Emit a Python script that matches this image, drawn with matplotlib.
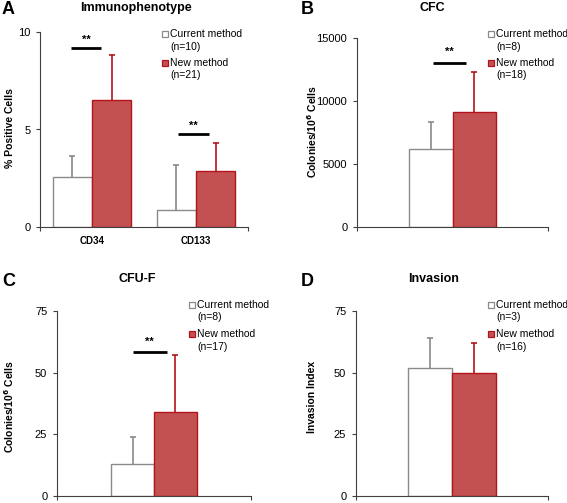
import matplotlib
matplotlib.use("Agg")
import matplotlib.pyplot as plt
from matplotlib.patches import Rectangle
import numpy as np

plt.rcParams['font.family'] = ['Liberation Sans', 'DejaVu Sans']

# data
immuno_cats = ['CD34', 'CD133']
immuno_current = [2.55, 0.85]
immuno_current_err = [1.1, 2.35]
immuno_new = [6.5, 2.85]
immuno_new_err = [2.3, 1.45]

cfc_current = [6200]
cfc_current_err = [2100]
cfc_new = [9100]
cfc_new_err = [3200]

cfuf_current = [13]
cfuf_current_err = [11]
cfuf_new = [34]
cfuf_new_err = [23]

inv_current = [52]
inv_current_err = [12]
inv_new = [50]
inv_new_err = [12]

W, H = 567, 503
RED = '#c45152'
RED_EDGE = '#b3141c'
GRAY = '#8a8a8a'
AXC = '#404040'

fig = plt.figure(figsize=(W / 100, H / 100), dpi=100)


def px_axes(x0, x1, ytop, ybot, ncat):
    ax = fig.add_axes([x0 / W, (H - ybot) / H, (x1 - x0) / W, (ybot - ytop) / H])
    ax._px = (x0, x1, ytop, ybot)
    ax._ncat = ncat
    return ax


def bars(ax, cur, cur_err, new, new_err, width, offset):
    x = np.arange(len(cur))
    cur = np.array(cur)
    new = np.array(new)
    ax.bar(x - offset, cur, width, color='white', edgecolor=GRAY, linewidth=1, zorder=2)
    ax.bar(x + offset, new, width, color=RED, edgecolor=RED_EDGE, linewidth=1, zorder=2)
    # upper error bars only
    ax.vlines(x - offset, cur, cur + np.array(cur_err), color=GRAY, lw=1.2, zorder=1)
    ax.plot(x - offset, cur + np.array(cur_err), ls='none', marker='_', ms=4, mew=1.2, color=GRAY, zorder=1)
    ax.vlines(x + offset, new, new + np.array(new_err), color=RED_EDGE, lw=1.2, zorder=1)
    ax.plot(x + offset, new + np.array(new_err), ls='none', marker='_', ms=4, mew=1.2, color=RED_EDGE, zorder=1)


def style(ax, ylim, yticks, ylabel, lab_x, lab_y):
    n = ax._ncat
    ax.set_ylim(*ylim)
    ax.set_yticks(yticks)
    ax.set_xlim(-0.5, n - 0.5)
    ax.set_xticks([-0.5, n - 0.5])
    ax.set_xticklabels(['', ''])
    ax.spines['top'].set_visible(False)
    ax.spines['right'].set_visible(False)
    ax.spines['left'].set_color(AXC)
    ax.spines['bottom'].set_color(AXC)
    ax.tick_params(axis='y', labelsize=8, length=3, color=AXC, pad=4)
    ax.tick_params(axis='x', length=3, color=AXC)
    ax.set_ylabel(ylabel, fontsize=7.5, fontweight='bold', va='center')
    x0, x1, ytop, ybot = ax._px
    ax.yaxis.set_label_coords((lab_x - x0) / (x1 - x0), (ybot - lab_y) / (ybot - ytop))


def sig(ax, x0, x1, y, ys):
    ax.plot([x0, x1], [y, y], color='black', lw=2, solid_capstyle='butt', clip_on=False)
    ax.text((x0 + x1) / 2, ys, '**', ha='center', va='center', fontsize=8, fontweight='bold')


def legend(x, y, n_cur, n_new):
    for dy, fc, ec, lab, n in [(0, 'white', GRAY, 'Current method', n_cur),
                               (29, RED, RED_EDGE, 'New method', n_new)]:
        fig.add_artist(Rectangle((x / W, (H - (y + dy) - 3) / H), 6 / W, 6 / H,
                                 facecolor=fc, edgecolor=ec, lw=0.9, transform=fig.transFigure))
        fig.text((x + 8) / W, (H - (y + dy)) / H, lab, fontsize=7.5, va='center', ha='left')
        fig.text((x + 8) / W, (H - (y + dy + 12.5)) / H, '(n=%d)' % n, fontsize=7.5, va='center', ha='left')


def panel_title(letter, lx, ly, title, tx, ty):
    fig.text(lx / W, (H - ly) / H, letter, fontsize=13, fontweight='bold', va='center', ha='left')
    fig.text(tx / W, (H - ty) / H, title, fontsize=9, fontweight='bold', va='center', ha='center')


# A
axA = px_axes(40, 248, 32, 227, len(immuno_cats))
bars(axA, immuno_current, immuno_current_err, immuno_new, immuno_new_err, 0.375, 0.19)
style(axA, (0, 10), [0, 5, 10], '% Positive Cells', 10, 128)
for i, c in enumerate(immuno_cats):
    axA.text(i, -0.45, c, ha='center', va='top', fontsize=7, fontweight='bold')
sig(axA, -0.2, 0.09, 9.2, 9.6)
sig(axA, 0.83, 1.125, 4.77, 5.2)
legend(162, 34, 10, 21)
panel_title('A', 2, 9, 'Immunophenotype', 136, 8)

# B
axB = px_axes(357, 548, 38, 227, len(cfc_current))
bars(axB, cfc_current, cfc_current_err, cfc_new, cfc_new_err, 0.23, 0.115)
style(axB, (0, 15000), [0, 5000, 10000, 15000], r'Colonies/10$^\mathbf{6}$ Cells', 312, 132)
sig(axB, -0.1, 0.07, 13050, 13900)
legend(488, 34, 8, 18)
panel_title('B', 301, 9, 'CFC', 432, 8)

# C
axC = px_axes(57, 251, 311, 496, len(cfuf_current))
bars(axC, cfuf_current, cfuf_current_err, cfuf_new, cfuf_new_err, 0.22, 0.11)
style(axC, (0, 75), [0, 25, 50, 75], r'Colonies/10$^\mathbf{6}$ Cells', 9, 407)
sig(axC, -0.11, 0.067, 58.5, 62.5)
legend(189, 305, 8, 17)
panel_title('C', 2, 282, 'CFU-F', 137, 279)

# D
axD = px_axes(356, 548, 311, 496, len(inv_current))
bars(axD, inv_current, inv_current_err, inv_new, inv_new_err, 0.23, 0.115)
style(axD, (0, 75), [0, 25, 50, 75], 'Invasion Index', 312, 397)
legend(488, 305, 3, 16)
panel_title('D', 301, 282, 'Invasion', 434, 279)

fig.savefig('out.png', dpi=100)
